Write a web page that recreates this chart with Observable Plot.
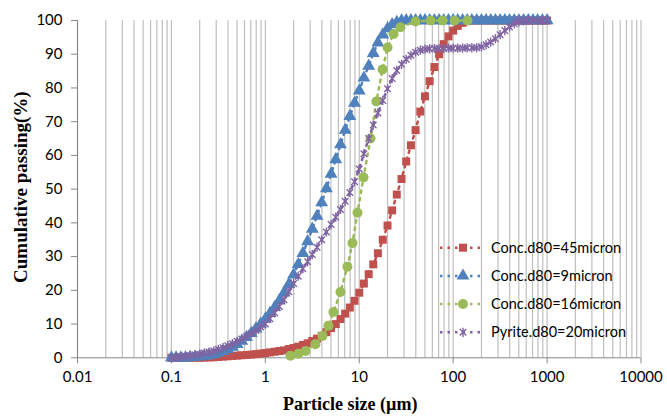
<!DOCTYPE html>
<html><head><meta charset="utf-8">
<script src="https://cdn.jsdelivr.net/npm/d3@7"></script>
<script src="https://cdn.jsdelivr.net/npm/@observablehq/plot@0.6"></script>
<style>
body{margin:0;background:#fff;}
#chart{position:relative;width:667px;height:416px;}
#legend{position:absolute;left:0;top:0;pointer-events:none;}
</style></head><body><div id="chart"></div>
<script>
// Particle sizes (µm) of the laser-diffraction size classes
const sizes = [0.1,0.112,0.126,0.141,0.158,0.178,0.2,0.224,0.251,0.282,
  0.316,0.355,0.398,0.447,0.501,0.562,0.631,0.708,0.794,0.891,
  1,1.12,1.26,1.41,1.58,1.78,2,2.24,2.51,2.82,
  3.16,3.55,3.98,4.47,5.01,5.62,6.31,7.08,7.94,8.91,
  10,11.2,12.6,14.1,15.8,17.8,20,22.4,25.1,28.2,
  31.6,35.5,39.8,44.7,50.1,56.2,63.1,70.8,79.4,89.1,
  100,112,126,141,158,178,200,224,251,282,
  316,355,398,447,501,562,631,708,794,891,1000];

const conc45 = [0,0,0,0,0,0,0,0.05,0.1,0.15,
  0.25,0.35,0.45,0.55,0.65,0.75,0.85,0.95,1.1,1.25,
  1.4,1.6,1.8,2.0,2.2,2.6,2.9,3.3,3.8,4.3,
  5.0,5.7,6.5,7.6,8.8,10.0,11.5,13.1,14.9,16.9,
  19.3,22.0,24.8,27.7,31.0,35.0,39.2,43.7,48.4,53.0,
  58.2,63.0,67.5,73.0,77.5,82.0,86.2,90.0,93.0,95.3,
  97.0,98.4,99.3,99.8,100,100,100,100,100,100,
  100,100,100,100,100,100,100,100,100,100,100];

const conc9 = [0,0,0,0,0.1,0.2,0.3,0.5,0.7,1.0,
  1.4,1.9,2.5,3.2,4.0,5.0,6.1,7.3,8.6,10.0,
  11.5,13.2,15.0,17.0,19.3,21.8,24.6,27.7,31.0,34.5,
  38.2,42.0,46.0,50.2,54.5,58.8,63.2,67.5,71.6,75.5,
  79.2,83.0,86.5,90.3,93.4,95.8,97.6,98.8,99.5,99.9,
  100,100,100,100,100,100,100,100,100,100,
  100,100,100,100,100,100,100,100,100,100,
  100,100,100,100,100,100,100,100,100,100,100];

const pyrite20 = [0,0.1,0.3,0.5,0.7,0.9,1.1,1.4,1.7,2.0,
  2.5,3.0,3.6,4.2,4.9,5.6,6.4,7.2,8.1,9.1,
  10.0,11.6,13.3,15.2,17.2,19.6,22.0,24.2,26.4,28.5,
  30.6,32.8,35.0,37.3,39.5,41.7,44.0,46.4,49.0,52.2,
  56.0,60.5,65.0,69.0,72.6,76.3,79.8,82.8,85.2,87.0,
  88.5,89.7,90.6,91.2,91.5,91.6,91.7,91.7,91.7,91.8,
  91.8,91.8,91.8,91.9,91.9,91.9,92.2,92.8,93.6,94.6,
  95.8,97.0,98.1,99.0,99.6,99.9,100,100,100,100,100];

const conc16Sizes = [1.85,2.25,2.67,3.41,4.05,4.7,5.31,6.31,7.48,8.47,9.57,11.1,13.2,15.2,17.7,20,23.2,27.5,39.7,57.4,77.1,103.5,142];
const conc16 = [0.6,1.2,2.0,4.0,6.5,9.5,13.6,19.5,27,34,43,53.5,65,76,85.5,92,96,98,99.7,100,100,100,100];

const xTickLabels = [0.01,0.1,1,10,100,1000,10000];
const yTicks = [0,10,20,30,40,50,60,70,80,90,100];
const seriesNames = ["Conc.d80=45micron","Conc.d80=9micron","Conc.d80=16micron","Pyrite.d80=20micron"];
const colors = ["#C0504D","#4F81BD","#9BBB59","#8064A2"];

const rows = (xs, ys) => xs.map((x, i) => ({x, y: ys[i]}));
const red = rows(sizes, conc45), blue = rows(sizes, conc9), green = rows(conc16Sizes, conc16), purple = rows(sizes, pyrite20);

const star = {draw(ctx, size) {
  const r = Math.sqrt(size / Math.PI), d = r * 0.7071;
  ctx.moveTo(0, -r); ctx.lineTo(0, r);
  ctx.moveTo(-d, -d); ctx.lineTo(d, d);
  ctx.moveTo(-d, d); ctx.lineTo(d, -d);
}};

const dotted = (data, color) => Plot.line(data, {x: "x", y: "y", stroke: color, strokeWidth: 2.5, strokeDasharray: "2.5 5"});
const serif = "'Liberation Serif', 'Times New Roman', serif";

const chart = Plot.plot({
  width: 667, height: 416,
  marginLeft: 77, marginRight: 26.5, marginTop: 20, marginBottom: 58.7,
  style: {fontFamily: "Lato, sans-serif", fontSize: "15px", color: "#000", background: "#fff", overflow: "visible"},
  x: {type: "log", domain: [0.01, 10000]},
  y: {domain: [0, 100]},
  marks: [
    Plot.gridX(d3.scaleLog().domain([0.01, 10000]).ticks(), {stroke: "#BFBFBF", strokeOpacity: 1, strokeWidth: 1.2}),
    Plot.ruleY([0], {stroke: "#868686"}),
    Plot.ruleX([0.01], {stroke: "#868686"}),
    Plot.axisY(yTicks, {tickSize: 6, tickPadding: 9, stroke: "#868686", fill: "#000", label: null}),
    Plot.axisX(xTickLabels, {tickSize: 6, tickPadding: 8, stroke: "#868686", fill: "#000", tickFormat: d => String(d), label: null}),
    dotted(red, colors[0]),
    Plot.dot(red, {x: "x", y: "y", symbol: "square", r: 4.5, fill: colors[0]}),
    dotted(blue, colors[1]),
    Plot.dot(blue, {x: "x", y: "y", symbol: "triangle", r: 4.8, fill: colors[1]}),
    dotted(green, colors[2]),
    Plot.dot(green, {x: "x", y: "y", symbol: "circle", r: 5, fill: colors[2]}),
    dotted(purple, colors[3]),
    Plot.dot(purple, {x: "x", y: "y", symbol: star, r: 4.6, fill: "none", stroke: colors[3], strokeWidth: 1.4}),
    Plot.text(["Particle size (µm)"], {frameAnchor: "bottom", dy: 52, dx: -9, fontFamily: serif, fontWeight: "bold", fontSize: 18, text: d => d}),
    Plot.text(["Cumulative passing(%)"], {frameAnchor: "left", dx: -57, dy: -2, rotate: -90, textAnchor: "middle", fontFamily: serif, fontWeight: "bold", fontSize: 19, text: d => d})
  ]
});
const container = document.getElementById("chart");
container.appendChild(chart);

// Legend (inside the plot area, right-bottom)
const legendSymbols = [d3.symbolSquare, d3.symbolTriangle, d3.symbolCircle, star];
const legendSizes = [64, 72, 78, 66];
const svg = d3.select(container).append("svg").attr("id", "legend").attr("width", 667).attr("height", 416);
seriesNames.forEach((name, i) => {
  const y = 247.7 + i * 28.2;
  const g = svg.append("g");
  g.append("line").attr("x1", 440).attr("x2", 483).attr("y1", y).attr("y2", y)
    .attr("stroke", colors[i]).attr("stroke-width", 2.5).attr("stroke-dasharray", "2.5 5");
  const p = g.append("path").attr("d", d3.symbol(legendSymbols[i], legendSizes[i])()).attr("transform", `translate(463,${y})`);
  if (i === 3) p.attr("fill", "none").attr("stroke", colors[i]).attr("stroke-width", 1.4);
  else p.attr("fill", colors[i]);
  g.append("text").attr("x", 491).attr("y", y).attr("dy", "0.35em")
    .attr("font-family", "Lato, sans-serif").attr("font-size", 14.5).attr("fill", "#000").text(name);
});
</script></body></html>
